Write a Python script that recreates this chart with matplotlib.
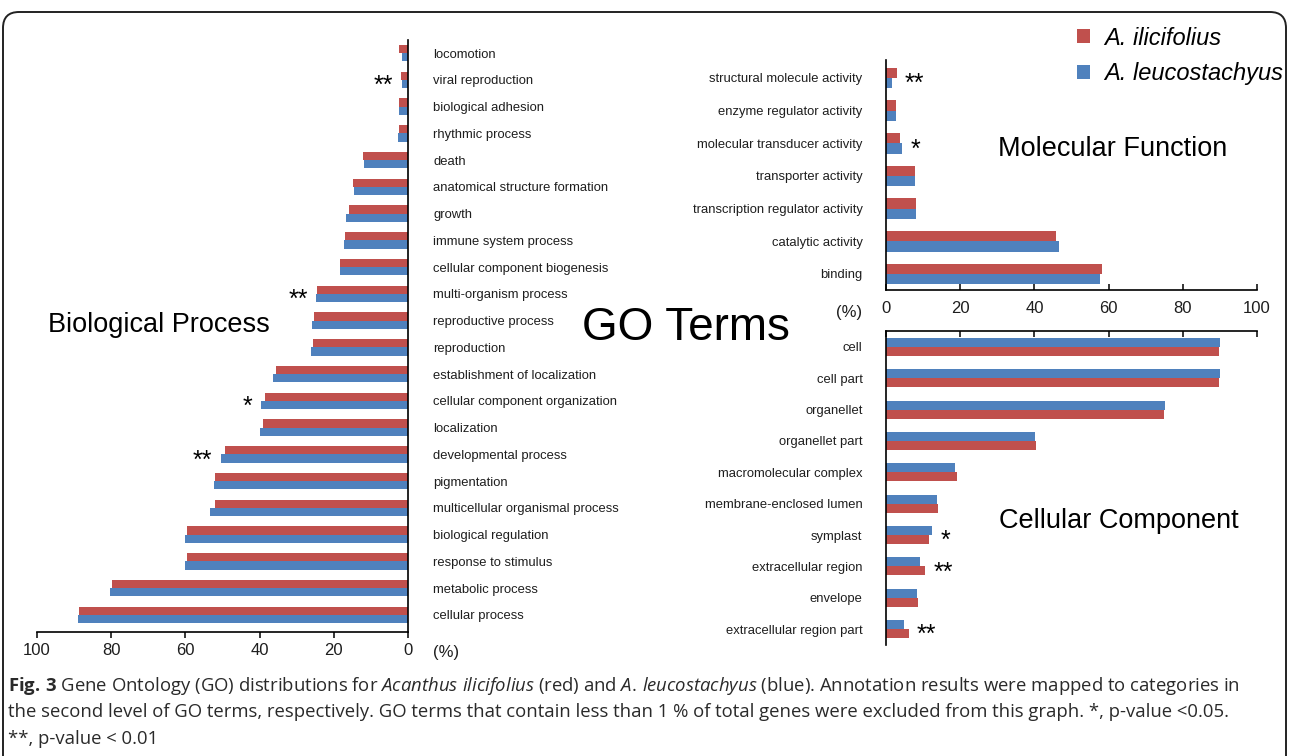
import numpy as np
import matplotlib
matplotlib.use("Agg")
import matplotlib.pyplot as plt
from matplotlib import font_manager
from matplotlib.patches import FancyBboxPatch
from matplotlib.transforms import IdentityTransform

# ---------------------------------------------------------------- data
bp_terms = [
    "locomotion", "viral reproduction", "biological adhesion", "rhythmic process",
    "death", "anatomical structure formation", "growth", "immune system process",
    "cellular component biogenesis", "multi-organism process", "reproductive process",
    "reproduction", "establishment of localization", "cellular component organization",
    "localization", "developmental process", "pigmentation",
    "multicellular organismal process", "biological regulation", "response to stimulus",
    "metabolic process", "cellular process",
]
bp_ilicifolius = [2.4, 1.9, 2.4, 2.5, 12.2, 14.8, 15.8, 17.0, 18.4, 24.4, 25.3,
                  25.6, 35.7, 38.6, 39.2, 49.3, 51.9, 52.0, 59.6, 59.6, 79.9, 88.7]
bp_leucostachyus = [1.6, 1.6, 2.5, 2.7, 11.8, 14.6, 16.6, 17.3, 18.4, 24.7, 25.9,
                    26.2, 36.4, 39.7, 39.8, 50.5, 52.4, 53.3, 60.1, 60.2, 80.3, 88.9]
bp_sig = {"viral reproduction": "**", "multi-organism process": "**",
          "cellular component organization": "*", "developmental process": "**"}

mf_terms = [
    "structural molecule activity", "enzyme regulator activity",
    "molecular transducer activity", "transporter activity",
    "transcription regulator activity", "catalytic activity", "binding",
]
mf_ilicifolius = [2.9, 2.6, 3.9, 7.7, 8.0, 45.9, 58.2]
mf_leucostachyus = [1.7, 2.7, 4.4, 7.8, 8.2, 46.5, 57.7]
mf_sig = {"structural molecule activity": "**", "molecular transducer activity": "*"}

cc_terms = [
    "cell", "cell part", "organellet", "organellet part", "macromolecular complex",
    "membrane-enclosed lumen", "symplast", "extracellular region", "envelope",
    "extracellular region part",
]
cc_ilicifolius = [89.7, 89.7, 74.9, 40.3, 19.2, 14.0, 11.7, 10.6, 8.7, 6.1]
cc_leucostachyus = [90.0, 90.0, 75.1, 40.1, 18.7, 13.7, 12.4, 9.1, 8.4, 4.8]
cc_sig = {"symplast": "*", "extracellular region": "**", "extracellular region part": "**"}

x_ticks = [0, 20, 40, 60, 80, 100]
species = ["A. ilicifolius", "A. leucostachyus"]

caption_lines = [
    r"$\mathbf{Fig.\,3}$ Gene Ontology (GO) distributions for "
    r"$\mathit{Acanthus\ ilicifolius}$ (red) and $\mathit{A.\,leucostachyus}$ (blue). "
    r"Annotation results were mapped to categories in",
    "the second level of GO terms, respectively. GO terms that contain less than 1 % "
    "of total genes were excluded from this graph. *, p-value <0.05.",
    "**, p-value < 0.01",
]

# ---------------------------------------------------------------- style
RED = "#C0504D"
BLUE = "#4F81BD"
INK = "#1e1e1e"

W, H, DPI = 1289, 756, 100
available = {f.name for f in font_manager.fontManager.ttflist}
NARROW = "Liberation Sans Narrow" if "Liberation Sans Narrow" in available else "Liberation Sans"
LABEL_SIZE = 11.2 if NARROW == "Liberation Sans Narrow" else 9.4
TICK_SIZE = 14 if NARROW == "Liberation Sans Narrow" else 12

plt.rcParams.update({
    "font.family": ["Liberation Sans", "DejaVu Sans"],
    "mathtext.fontset": "custom",
    "mathtext.rm": "Open Sans",
    "mathtext.it": "Open Sans:italic",
    "mathtext.bf": "Open Sans:bold",
    "axes.linewidth": 1.2,
})

fig = plt.figure(figsize=(W / DPI, H / DPI), dpi=DPI)
fig.patch.set_facecolor("white")


def px_axes(left, top, right, bottom):
    return fig.add_axes([left / W, 1 - bottom / H, (right - left) / W, (bottom - top) / H])


def draw_pairs(ax, first, second, first_color, second_color, bar_h):
    y = np.arange(len(first))
    b1 = ax.barh(y - bar_h / 2, first, height=bar_h, color=first_color, lw=0)
    b2 = ax.barh(y + bar_h / 2, second, height=bar_h, color=second_color, lw=0)
    return b1, b2


def mark_significance(ax, terms, a, b, sig, side):
    for i, term in enumerate(terms):
        if term in sig:
            v = max(a[i], b[i])
            dx = -6 if side == "left" else 6
            ax.annotate(sig[term], xy=(v, i), xytext=(dx, -4.5), textcoords="offset points",
                        ha="right" if side == "left" else "left", va="center",
                        fontsize=18, color="black", annotation_clip=False)


# ------------------------------------------------ Biological Process panel
ax_bp = px_axes(37, 40, 408, 632)
bars_red, bars_blue = draw_pairs(ax_bp, bp_ilicifolius, bp_leucostachyus, RED, BLUE, 0.31)
ax_bp.set_xlim(100, 0)
ax_bp.set_ylim(21.64, -0.49)
ax_bp.spines[["top", "left"]].set_visible(False)
ax_bp.yaxis.tick_right()
ax_bp.set_yticks(np.arange(len(bp_terms)))
ax_bp.set_yticklabels(bp_terms, ha="left", fontfamily=NARROW, fontsize=LABEL_SIZE, color=INK)
ax_bp.tick_params(axis="y", length=0, pad=18)
ax_bp.set_xticks(x_ticks)
ax_bp.tick_params(axis="x", direction="out", length=4, width=1.1, pad=4,
                  labelsize=TICK_SIZE, labelcolor=INK)
for lab in ax_bp.get_xticklabels():
    lab.set_fontfamily(NARROW)
mark_significance(ax_bp, bp_terms, bp_ilicifolius, bp_leucostachyus, bp_sig, "left")

# ------------------------------------------------ Molecular Function panel
ax_mf = px_axes(886, 60, 1257, 290)
draw_pairs(ax_mf, mf_ilicifolius, mf_leucostachyus, RED, BLUE, 0.32)
ax_mf.set_xlim(0, 100)
ax_mf.set_ylim(6.49, -0.55)
ax_mf.spines[["top", "right"]].set_visible(False)
ax_mf.set_yticks(np.arange(len(mf_terms)))
ax_mf.set_yticklabels(mf_terms, fontfamily=NARROW, fontsize=LABEL_SIZE, color=INK)
ax_mf.tick_params(axis="y", length=0, pad=17)
ax_mf.set_xticks(x_ticks)
ax_mf.tick_params(axis="x", direction="in", length=4, width=1.1, pad=8,
                  labelsize=TICK_SIZE, labelcolor=INK)
for lab in ax_mf.get_xticklabels():
    lab.set_fontfamily(NARROW)
mark_significance(ax_mf, mf_terms, mf_ilicifolius, mf_leucostachyus, mf_sig, "right")

# ------------------------------------------------ Cellular Component panel
ax_cc = px_axes(886, 331, 1257, 645)
draw_pairs(ax_cc, cc_leucostachyus, cc_ilicifolius, BLUE, RED, 0.29)
ax_cc.set_xlim(0, 100)
ax_cc.set_ylim(9.51, -0.51)
ax_cc.spines[["bottom", "right"]].set_visible(False)
ax_cc.xaxis.tick_top()
ax_cc.set_xticks(x_ticks)
ax_cc.tick_params(axis="x", direction="in", length=4, width=1.1, labeltop=False)
ax_cc.set_yticks(np.arange(len(cc_terms)))
ax_cc.set_yticklabels(cc_terms, fontfamily=NARROW, fontsize=LABEL_SIZE, color=INK)
ax_cc.tick_params(axis="y", length=0, pad=17)
mark_significance(ax_cc, cc_terms, cc_leucostachyus, cc_ilicifolius, cc_sig, "right")

# ------------------------------------------------ headings and unit labels
def fig_text(x, y, s, **kw):
    fig.text(x / W, 1 - y / H, s, ha="center", va="center", color=kw.pop("color", "black"), **kw)


fig_text(159, 325, "Biological Process", fontsize=19.5)
fig_text(686, 328, "GO Terms", fontsize=33)
fig_text(1113, 149, "Molecular Function", fontsize=19.5)
fig_text(1119, 521, "Cellular Component", fontsize=19.5)
fig_text(446, 652, "(%)", fontsize=TICK_SIZE, fontfamily=NARROW, color=INK)
fig_text(849, 312, "(%)", fontsize=TICK_SIZE, fontfamily=NARROW, color=INK)

# ------------------------------------------------ legend
fig.legend([bars_red, bars_blue], species, loc="center left",
           bbox_to_anchor=(1077 / W, 1 - 56 / H), frameon=False,
           prop={"style": "italic", "size": 17}, handlelength=0.55, handleheight=0.55,
           handletextpad=0.6, labelspacing=0.55, borderpad=0, borderaxespad=0)

# ------------------------------------------------ caption
caption_baselines = [691, 717, 744]
for line, yb in zip(caption_lines, caption_baselines):
    fig.text(8 / W, 1 - yb / H, line, ha="left", va="baseline", fontsize=13.3,
             fontfamily="Open Sans", color="#2a2a2a")

# ------------------------------------------------ rounded frame
frame = FancyBboxPatch((3, -40), 1283, H - 12 + 40,
                       boxstyle="round,pad=0,rounding_size=16",
                       transform=IdentityTransform(), fill=False, lw=1.4, ec="#222222")
fig.add_artist(frame)

fig.savefig("out.png", dpi=DPI, facecolor="white")
